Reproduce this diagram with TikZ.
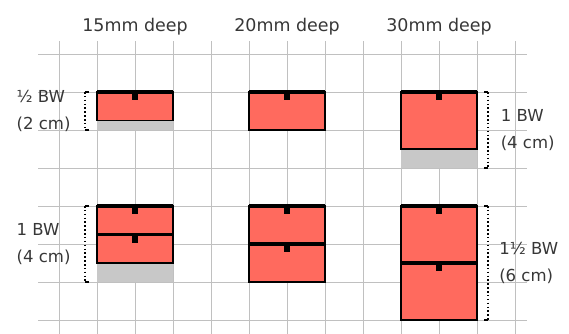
\documentclass[tikz,border=0pt]{standalone}
\usepackage{fontspec}
\setmainfont{DejaVu Sans}
\usepackage{tikz}
\definecolor{drawerred}{RGB}{255,106,94}
\definecolor{sparegray}{RGB}{200,200,200}
\definecolor{gridgray}{RGB}{192,192,192}
\definecolor{labelgray}{RGB}{55,55,55}

\begin{document}
\begin{tikzpicture}[x=1.14cm,y=-1.14cm,
    gridline/.style={gridgray,line width=0.8pt},
    drawer/.style={draw=black,fill=drawerred,line width=1.7pt},
    topedge/.style={line width=2.9pt},
    spare/.style={fill=sparegray},
    dimline/.style={line width=1.3pt,dotted},
    dimtick/.style={line width=1.2pt},
    head/.style={font=\fontsize{14.9}{18}\selectfont,text=labelgray,anchor=base,inner sep=0pt},
    side/.style={font=\fontsize{14.1}{22.7}\selectfont,text=labelgray,align=left,anchor=west,inner sep=0pt}]
    \useasboundingbox (-1.553,-1.421) rectangle (13.421,7.368);

    % background grid
    \foreach \i in {0,...,12} \draw[gridline] (\i,-0.34) -- (\i,7.4);
    \foreach \j in {0,...,7} \draw[gridline] (-0.55,\j) -- (12.32,\j);

    % space left below the drawers
    \fill[spare] (1,1.75) rectangle (3,2);
    \fill[spare] (9,2.5) rectangle (11,3);
    \fill[spare] (1,5.5) rectangle (3,6);

    % drawers: left column / top / bottom
    \foreach \x/\t/\b in {1/1/1.75, 5/1/2, 9/1/2.5,
                          1/4/4.75, 1/4.75/5.5, 5/4/5, 5/5/6, 9/4/5.5, 9/5.5/7} {
        \draw[drawer] (\x,\t) rectangle (\x+2,\b);
        \draw[topedge] (\x,\t) -- (\x+2,\t);
        \fill[black] (\x+0.92,\t) rectangle (\x+1.08,\t+0.22);
    }

    % height brackets
    \coordinate (lowtop) at (0.68,1);   \coordinate (lowbot) at (0.68,2);
    \coordinate (lhightop) at (0.68,4); \coordinate (lhighbot) at (0.68,6);
    \coordinate (rlowtop) at (11.29,1); \coordinate (rlowbot) at (11.29,3);
    \coordinate (rhightop) at (11.29,4); \coordinate (rhighbot) at (11.29,7);
    \draw[dimline] (lowtop) -- (lowbot);
    \draw[dimline] (lhightop) -- (lhighbot);
    \draw[dimline] (rlowtop) -- (rlowbot);
    \draw[dimline] (rhightop) -- (rhighbot);
    \foreach \c in {lowtop,lowbot,lhightop,lhighbot} \draw[dimtick] (\c) -- ++(0.12,0);
    \foreach \c in {rlowtop,rlowbot,rhightop,rhighbot} \draw[dimtick] (\c) -- ++(-0.11,0);

    % labels
    \node[head] (deep15) at (2,-0.58) {15mm deep};
    \node[head] (deep20) at (6,-0.58) {20mm deep};
    \node[head] (deep30) at (10,-0.58) {30mm deep};
    \node[side] (halfbw) at (-1.12,1.5) {½ BW\\(2 cm)};
    \node[side] (onebwl) at (-1.12,5) {1 BW\\(4 cm)};
    \node[side] (onebwr) at (11.62,2) {1 BW\\(4 cm)};
    \node[side] (threehalfbw) at (11.58,5.5) {1½ BW\\(6 cm)};
\end{tikzpicture}
\end{document}
